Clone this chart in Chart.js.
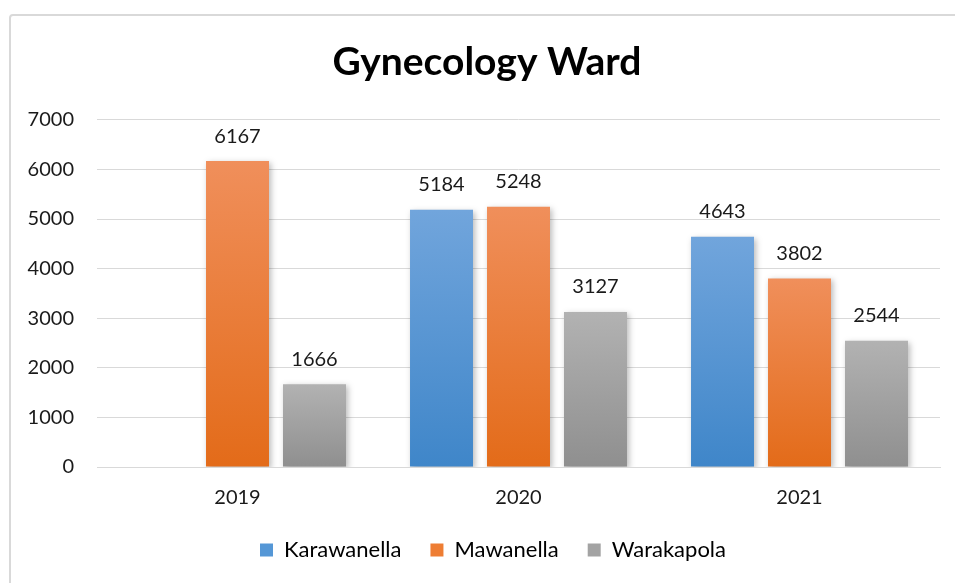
<!DOCTYPE html>
<html>
<head>
<meta charset="utf-8">
<script src="https://cdn.jsdelivr.net/npm/chart.js@4/dist/chart.umd.min.js"></script>
<style>
  html, body { margin: 0; padding: 0; background: #fff; width: 955px; height: 583px; overflow: hidden; }
  #frame { position: absolute; left: 9px; top: 14px; width: 1000px; height: 1000px; border: 2px solid #d9d9d9; border-radius: 4px; box-sizing: border-box; }
  #wrap { position: absolute; left: 0; top: 0; width: 955px; height: 583px; }
</style>
</head>
<body>
<div id="frame"></div>
<div id="wrap"><canvas id="c" width="955" height="583"></canvas></div>
<script>
const categories = ['2019', '2020', '2021'];
const seriesNames = ['Karawanella', 'Mawanella', 'Warakapola'];
const karawanella = [null, 5184, 4643];
const mawanella = [6167, 5248, 3802];
const warakapola = [1666, 3127, 2544];
const yMin = 0, yMax = 7000, yStep = 1000;

const FONT = 'Lato, "Open Sans", sans-serif';
const TEXT = '#1a1a1a';

function grad(top, bottom) {
  return (ctx) => {
    const chart = ctx.chart;
    if (!chart.chartArea || ctx.raw == null || !chart.scales.y) return bottom;
    const ys = chart.scales.y;
    const yt = ys.getPixelForValue(ctx.raw), yb = ys.getPixelForValue(0);
    const g = chart.ctx.createLinearGradient(0, yt, 0, yb);
    g.addColorStop(0, top);
    g.addColorStop(1, bottom);
    return g;
  };
}

const colors = [
  { top: '#71a5dc', bottom: '#3f86c9', mid: '#5597d6' },
  { top: '#f08f5b', bottom: '#e36b19', mid: '#ee7d33' },
  { top: '#b2b2b2', bottom: '#8f8f8f', mid: '#a3a3a3' }
];

const barPlugin = {
  id: 'barDecor',
  afterLayout(chart) {
    // centre title and legend on the chart frame, as in the reference
    if (chart.titleBlock) chart.titleBlock.left += 34;
    if (chart.legend) chart.legend.left += 46;
  },
  beforeDatasetsDraw(chart) {
    const c = chart.ctx;
    c.save();
    c.shadowColor = 'rgba(0,0,0,0.28)';
    c.shadowBlur = 6;
    c.shadowOffsetX = 2;
    c.shadowOffsetY = 2;
  },
  afterDatasetsDraw(chart) {
    const c = chart.ctx;
    c.restore();
    c.save();
    c.font = '20px ' + FONT;
    c.fillStyle = TEXT;
    c.textAlign = 'center';
    c.textBaseline = 'bottom';
    chart.data.datasets.forEach((ds, di) => {
      const meta = chart.getDatasetMeta(di);
      meta.data.forEach((el, i) => {
        const v = ds.data[i];
        if (v == null) return;
        c.fillText(String(v), el.x, el.y - 15);
      });
    });
    c.restore();
  }
};

const datasets = [karawanella, mawanella, warakapola].map((arr, i) => ({
  label: seriesNames[i],
  data: arr,
  backgroundColor: grad(colors[i].top, colors[i].bottom),
  borderWidth: 0,
  categoryPercentage: 0.822,
  barPercentage: 0.818
}));

new Chart(document.getElementById('c'), {
  type: 'bar',
  data: { labels: categories, datasets },
  options: {
    responsive: false,
    animation: false,
    devicePixelRatio: 1,
    layout: { padding: { top: 39, right: 15, bottom: 12, left: 0 } },
    plugins: {
      title: {
        display: true,
        text: 'Gynecology Ward',
        color: '#000',
        font: { family: FONT, size: 39, weight: 'bold' },
        padding: { top: 0, bottom: 34 }
      },
      legend: {
        position: 'bottom',
        labels: {
          color: TEXT,
          font: { family: FONT, size: 22 },
          boxWidth: 13,
          boxHeight: 13,
          padding: 29,
          generateLabels(chart) {
            return chart.data.datasets.map((ds, i) => ({
              text: ds.label,
              fillStyle: colors[i].mid,
              strokeStyle: colors[i].mid,
              lineWidth: 0,
              datasetIndex: i,
              hidden: false
            }));
          }
        }
      },
      tooltip: { enabled: false }
    },
    scales: {
      x: {
        afterFit(scale) { scale.height = 43; },
        grid: { display: false, drawTicks: false },
        border: { display: true, color: '#d9d9d9', width: 1 },
        ticks: { color: TEXT, font: { family: FONT, size: 20 }, padding: 19 }
      },
      y: {
        min: yMin, max: yMax,
        afterFit(scale) { scale.width = 97; },
        grid: { color: '#d9d9d9', lineWidth: 1, drawTicks: false },
        border: { display: false },
        ticks: {
          stepSize: yStep, color: TEXT, font: { family: FONT, size: 20 }, padding: 23,
          callback: (v) => String(v)
        }
      }
    }
  },
  plugins: [barPlugin]
});
</script>
</body>
</html>
